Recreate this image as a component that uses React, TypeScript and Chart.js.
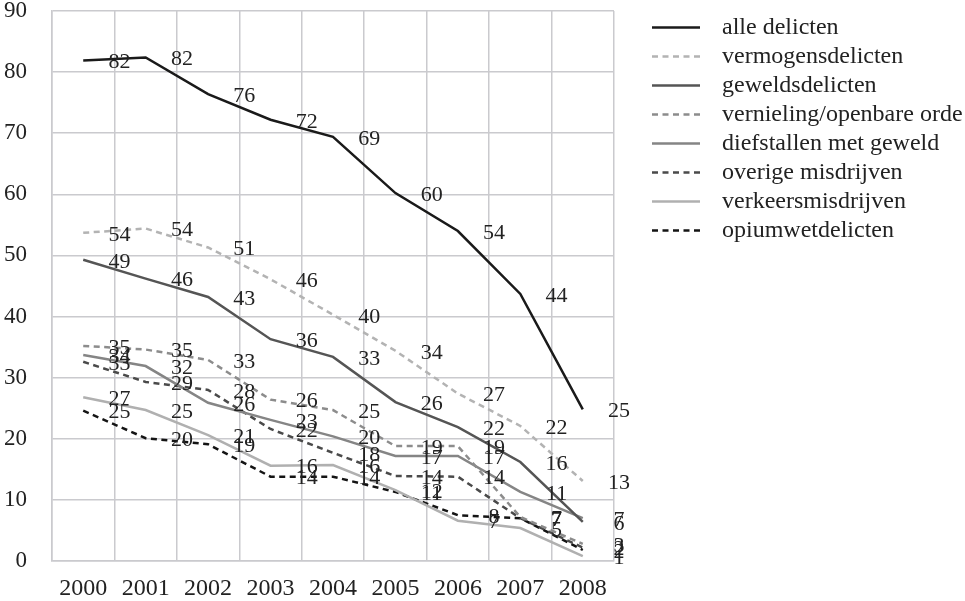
import React, { useEffect, useRef } from "react";
import { Chart, registerables } from "chart.js";

Chart.register(...registerables);

const years = ["2000", "2001", "2002", "2003", "2004", "2005", "2006", "2007", "2008"];
const yTicks = [0, 10, 20, 30, 40, 50, 60, 70, 80, 90];

const alleDelicten = [81.9, 82.4, 76.4, 72.2, 69.4, 60.2, 54.0, 43.7, 24.8];
const vermogensdelicten = [53.7, 54.4, 51.3, 46.1, 40.3, 34.4, 27.4, 22.1, 13.1];
const geweldsdelicten = [49.3, 46.2, 43.2, 36.3, 33.4, 26.0, 21.9, 16.2, 6.4];
const vernieling = [35.2, 34.6, 32.9, 26.4, 24.7, 18.8, 18.8, 7.2, 2.8];
const diefstallen = [33.7, 31.9, 25.9, 23.1, 20.4, 17.2, 17.2, 11.3, 7.0];
const overige = [32.6, 29.3, 28.0, 21.6, 17.7, 13.9, 13.8, 7.0, 2.2];
const verkeers = [26.8, 24.7, 20.6, 15.6, 15.7, 11.6, 6.6, 5.4, 0.8];
const opium = [24.6, 20.1, 19.1, 13.8, 13.8, 11.3, 7.5, 7.0, 1.8];

const FONT = "'Liberation Serif', 'Times New Roman', serif";
const GRID = "#cacace";
const TEXT = "#222222";
const DASH = [6, 4.5];

const valueLabels = {
  id: "valueLabels",
  afterDatasetsDraw(chart: any) {
    const { ctx, scales } = chart;
    const xs = scales.x;
    const ys = scales.y;
    const half = (xs.getPixelForValue(1) - xs.getPixelForValue(0)) / 2;
    ctx.save();
    ctx.font = `22px ${FONT}`;
    ctx.fillStyle = TEXT;
    ctx.textAlign = "center";
    ctx.textBaseline = "middle";
    chart.data.datasets.forEach((ds: any) => {
      ds.data.forEach((v: number, i: number) => {
        ctx.fillText(String(Math.round(v)), xs.getPixelForValue(i) + half + 5, ys.getPixelForValue(v) + 2);
      });
    });
    ctx.restore();
  },
};

const sideLegend = {
  id: "sideLegend",
  afterDraw(chart: any) {
    const { ctx, chartArea } = chart;
    const x0 = chartArea.right + 38;
    ctx.save();
    ctx.font = `24px ${FONT}`;
    ctx.fillStyle = TEXT;
    ctx.textAlign = "left";
    ctx.textBaseline = "alphabetic";
    chart.data.datasets.forEach((ds: any, i: number) => {
      const cy = 27.5 + i * 29;
      ctx.strokeStyle = ds.borderColor;
      ctx.lineWidth = 2.5;
      ctx.setLineDash(ds.borderDash || []);
      ctx.beginPath();
      ctx.moveTo(x0, cy);
      ctx.lineTo(x0 + 48, cy);
      ctx.stroke();
      ctx.setLineDash([]);
      ctx.fillText(ds.label, x0 + 70, cy + 6);
    });
    ctx.restore();
  },
};

function series(label: string, data: number[], color: string, dashed: boolean) {
  return {
    label,
    data,
    borderColor: color,
    backgroundColor: color,
    borderWidth: 2.5,
    borderDash: dashed ? DASH : [],
    pointRadius: 0,
    tension: 0,
    fill: false,
  };
}

export default function App() {
  const ref = useRef<HTMLCanvasElement | null>(null);

  useEffect(() => {
    if (!ref.current) return;
    const chart = new Chart(ref.current, {
      type: "line",
      data: {
        labels: years,
        datasets: [
          series("alle delicten", alleDelicten, "#1a1a1a", false),
          series("vermogensdelicten", vermogensdelicten, "#b3b3b3", true),
          series("geweldsdelicten", geweldsdelicten, "#555555", false),
          series("vernieling/openbare orde", vernieling, "#8c8c8c", true),
          series("diefstallen met geweld", diefstallen, "#858585", false),
          series("overige misdrijven", overige, "#4a4a4a", true),
          series("verkeersmisdrijven", verkeers, "#b0b0b0", false),
          series("opiumwetdelicten", opium, "#141414", true),
        ],
      },
      options: {
        animation: false,
        responsive: true,
        maintainAspectRatio: false,
        layout: { padding: { top: 0, right: 351, bottom: 0, left: 0 } },
        plugins: { legend: { display: false }, tooltip: { enabled: false } },
        scales: {
          x: {
            offset: true,
            grid: { offset: true, color: GRID, lineWidth: 1.5, drawTicks: false },
            border: { color: GRID, width: 1.5 },
            ticks: { font: { family: FONT, size: 24, lineHeight: 1 }, color: TEXT, padding: 16, maxRotation: 0 },
            afterFit: (s: any) => {
              s.height = 40;
              s.paddingLeft = 0;
              s.paddingRight = 0;
            },
          },
          y: {
            min: 0,
            max: 90,
            afterBuildTicks: (s: any) => {
              s.ticks = yTicks.map((v) => ({ value: v }));
            },
            grid: { color: GRID, lineWidth: 1.5, drawTicks: false },
            border: { color: GRID, width: 1.5 },
            ticks: { font: { family: FONT, size: 23, lineHeight: 1 }, color: TEXT, padding: 25 },
            afterFit: (s: any) => {
              s.width = 52;
              s.paddingTop = 11;
              s.paddingBottom = 0;
            },
          },
        },
      },
      plugins: [valueLabels, sideLegend],
    });
    return () => chart.destroy();
  }, []);

  return (
    <div style={{ position: "absolute", left: 0, top: 0, width: 965, height: 601, background: "#fff" }}>
      <canvas ref={ref} />
    </div>
  );
}
